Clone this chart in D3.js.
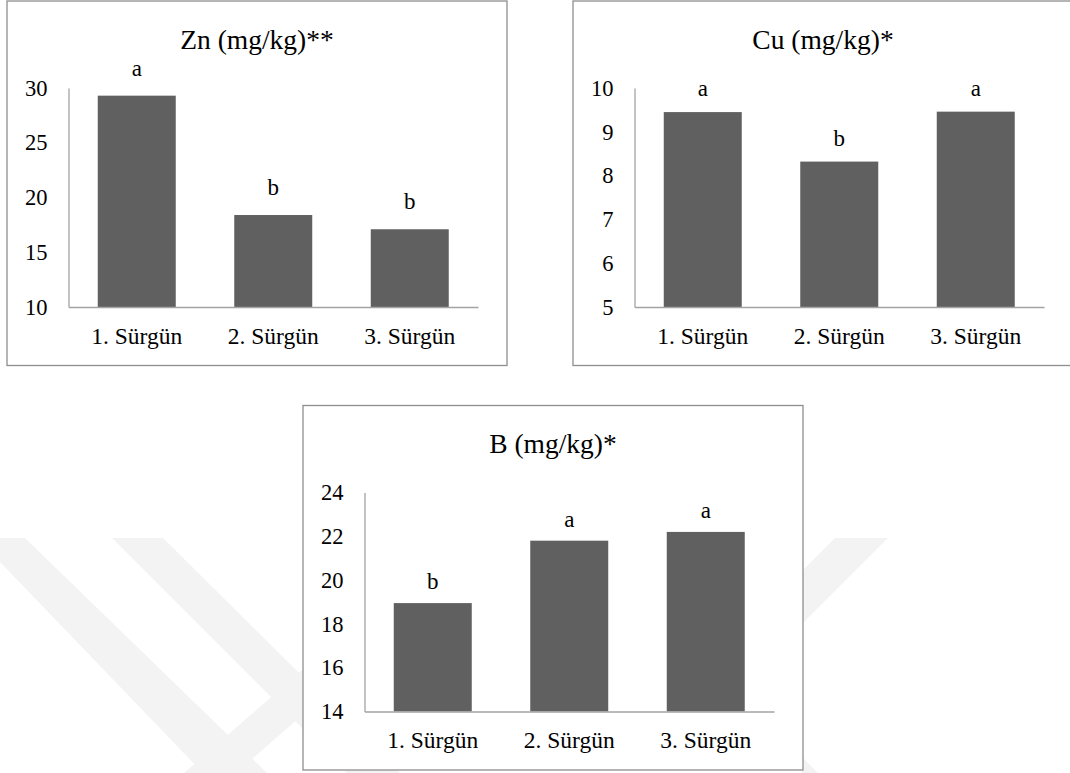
<!DOCTYPE html>
<html>
<head>
<meta charset="utf-8">
<script src="https://cdn.jsdelivr.net/npm/d3@7"></script>
<style>
  html, body { margin: 0; padding: 0; background: #ffffff; }
  svg { display: block; }
</style>
</head>
<body>
<svg id="chart" width="1070" height="773"></svg>
<script>
// Shoot categories shared by all three panels
const categories = ["1. Sürgün", "2. Sürgün", "3. Sürgün"];

// Zn (mg/kg)
const znValues = [29.3, 18.4, 17.1];
const znLetters = ["a", "b", "b"];
const znTicks = [10, 15, 20, 25, 30];

// Cu (mg/kg)
const cuValues = [9.45, 8.32, 9.46];
const cuLetters = ["a", "b", "a"];
const cuTicks = [5, 6, 7, 8, 9, 10];

// B (mg/kg)
const bValues = [18.95, 21.8, 22.2];
const bLetters = ["b", "a", "a"];
const bTicks = [14, 16, 18, 20, 22, 24];

const SERIF = "Liberation Serif, Tinos, Times New Roman, DejaVu Serif, serif";

const svg = d3.select("#chart").attr("font-family", SERIF);

// Faint background watermark bands
const watermark = [
  [[-23, 538], [25, 538], [267, 773], [203, 773]],
  [[112, 538], [163, 538], [400, 773], [347, 773]],
  [[184, 773], [340, 637], [392, 637], [236, 773]],
  [[835, 538], [888, 538], [700, 726], [647, 726]],
  [[765, 735], [780, 735], [818, 773], [803, 773]]
];
svg.append("g")
  .selectAll("polygon")
  .data(watermark)
  .join("polygon")
  .attr("points", d => d.map(p => p.join(",")).join(" "))
  .attr("fill", "#f3f3f3");

const panels = [
  { title: "Zn (mg/kg)**", values: znValues, letters: znLetters, ticks: znTicks, x: 7,   y: 1,     letterGap: 20 },
  { title: "Cu (mg/kg)*",  values: cuValues, letters: cuLetters, ticks: cuTicks, x: 573, y: 1,     letterGap: 16 },
  { title: "B (mg/kg)*",   values: bValues,  letters: bLetters,  ticks: bTicks,  x: 303, y: 405.5, letterGap: 14 }
];

const boxW = 500, boxH = 364.5;
const plotLeft = 61.5, plotRight = 471, plotTop = 87, plotBottom = 306;
const tickSize = 22.5, catSize = 23.5, letterSize = 23;

panels.forEach(p => {
  const g = svg.append("g").attr("transform", `translate(${p.x},${p.y})`);

  // panel frame
  g.append("rect")
    .attr("x", 0).attr("y", 0)
    .attr("width", boxW).attr("height", boxH)
    .attr("fill", "#ffffff")
    .attr("stroke", "#8e8e8e")
    .attr("stroke-width", 1.3);

  g.append("text")
    .attr("x", boxW / 2)
    .attr("y", 47.5)
    .attr("text-anchor", "middle")
    .attr("font-family", SERIF)
    .attr("font-size", 27.5)
    .attr("fill", "#000")
    .text(p.title);

  const xs = d3.scaleBand()
    .domain(categories)
    .range([plotLeft, plotRight])
    .paddingInner(0.4286)
    .paddingOuter(0.2143);

  const ys = d3.scaleLinear()
    .domain([p.ticks[0], p.ticks[p.ticks.length - 1]])
    .range([plotBottom, plotTop]);

  const rows = categories.map((c, i) => ({ cat: c, value: p.values[i], letter: p.letters[i] }));

  g.append("g")
    .selectAll("rect")
    .data(rows)
    .join("rect")
    .attr("x", d => xs(d.cat))
    .attr("y", d => ys(d.value))
    .attr("width", xs.bandwidth())
    .attr("height", d => ys(p.ticks[0]) - ys(d.value))
    .attr("fill", "#606060");

  // significance group letters above each bar
  g.append("g")
    .selectAll("text")
    .data(rows)
    .join("text")
    .attr("x", d => xs(d.cat) + xs.bandwidth() / 2)
    .attr("y", d => ys(d.value) - p.letterGap)
    .attr("text-anchor", "middle")
    .attr("font-family", SERIF)
    .attr("font-size", letterSize)
    .attr("fill", "#000")
    .text(d => d.letter);

  const yAxis = g.append("g")
    .attr("transform", `translate(${plotLeft},0)`)
    .call(d3.axisLeft(ys).tickValues(p.ticks).tickSize(0).tickPadding(21).tickFormat(d3.format("d")));
  yAxis.attr("font-size", tickSize);

  const xAxis = g.append("g")
    .attr("transform", `translate(0,${plotBottom})`)
    .call(d3.axisBottom(xs).tickSize(0).tickPadding(20));
  xAxis.attr("font-size", catSize);

  [yAxis, xAxis].forEach(a => {
    a.attr("font-family", SERIF);
    a.select(".domain").attr("stroke", "#a3a3a3").attr("stroke-width", 1.3);
    a.selectAll("text").attr("fill", "#000");
  });
});
</script>
</body>
</html>
